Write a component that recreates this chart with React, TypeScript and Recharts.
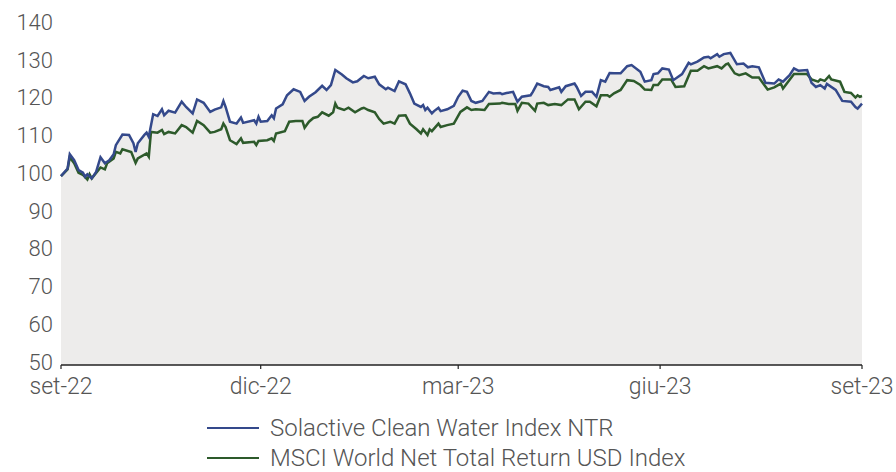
import React from 'react';
import { ComposedChart, Line, Area, XAxis, YAxis } from 'recharts';

const tickDays = [0, 91, 181, 273, 365];
const tickLabels = ['set-22', 'dic-22', 'mar-23', 'giu-23', 'set-23'];
const yTicks = [50, 60, 70, 80, 90, 100, 110, 120, 130, 140];

const seriesNames = ['Solactive Clean Water Index NTR', 'MSCI World Net Total Return USD Index'];

const waterDays = [0, 3, 4, 6, 8, 10, 11, 12, 14, 16, 18, 20, 22, 24, 25, 28, 31, 33, 34, 35, 38, 39, 40, 42, 44, 46, 47, 49, 52, 55, 57, 60, 62, 65, 68, 70, 73, 74, 75, 77, 80, 82, 83, 88, 89, 90, 91, 94, 96, 97, 98, 101, 103, 106, 109, 111, 113, 116, 119, 121, 123, 125, 128, 130, 133, 135, 138, 140, 143, 145, 148, 149, 152, 154, 157, 159, 161, 164, 165, 166, 167, 169, 170, 172, 173, 176, 179, 181, 183, 185, 187, 189, 192, 195, 197, 200, 201, 203, 206, 208, 210, 214, 215, 217, 220, 222, 223, 227, 228, 230, 234, 235, 237, 239, 242, 244, 246, 248, 250, 252, 255, 258, 260, 264, 266, 269, 270, 272, 274, 277, 279, 283, 286, 287, 290, 293, 295, 296, 299, 300, 302, 305, 308, 311, 313, 315, 318, 321, 325, 327, 329, 332, 334, 336, 340, 342, 344, 346, 348, 349, 353, 356, 360, 362, 363, 365];
const waterValues = [100, 102, 105.8, 104.2, 101.6, 100.9, 99.8, 100.5, 99.4, 101.1, 105, 103.4, 104.2, 105.8, 108.2, 111, 110.9, 108.7, 106.4, 108.7, 110.9, 111.5, 110.4, 116.4, 115.9, 117.7, 116.1, 117.3, 116.8, 119.7, 118.3, 116.6, 120.3, 119.4, 117, 117.6, 118.2, 119.9, 118.3, 114.4, 113.9, 115.5, 114.1, 114.8, 113.9, 115.7, 114.4, 114.6, 116.1, 115.3, 117.9, 119, 121.4, 123, 122.3, 119.9, 121, 122.2, 123.9, 122.8, 124.1, 128.1, 126.9, 125.9, 124.8, 125.1, 126.5, 125.9, 126.3, 124.3, 123, 123.4, 122.5, 125.1, 124.3, 121.9, 119.2, 118.3, 118.8, 117.5, 118.1, 116.6, 117.2, 118.1, 117.2, 117.7, 118.6, 121, 122.6, 122.3, 119.9, 119.4, 119.9, 122.3, 121.9, 122, 121.7, 122, 122.3, 119.7, 121, 121.4, 122.3, 124.5, 123.8, 123.6, 122.8, 123.5, 122.3, 123.8, 124.5, 123.6, 121.2, 122.3, 122.3, 121, 125.4, 125, 127.3, 127.2, 127.2, 129.1, 129.4, 127.6, 125, 125.4, 127, 127.2, 128.5, 128.2, 125.4, 127, 130, 129.6, 130.3, 131.4, 131.6, 131.2, 132.3, 131.6, 132.3, 132.6, 129.6, 129.8, 128.8, 129.1, 128.8, 124.7, 124.5, 125.6, 125, 126.7, 128.5, 127.9, 128.1, 124.7, 123.6, 124.1, 123.2, 124.4, 122.8, 119.9, 119.7, 118.3, 117.9, 119.2];

const msciDays = [0, 3, 4, 6, 8, 10, 12, 13, 14, 18, 20, 21, 24, 25, 27, 28, 32, 34, 35, 39, 40, 41, 44, 46, 47, 49, 52, 55, 57, 60, 62, 65, 68, 70, 73, 74, 75, 77, 80, 82, 83, 88, 89, 90, 94, 96, 97, 98, 102, 104, 107, 110, 111, 113, 115, 117, 119, 122, 124, 125, 126, 129, 131, 134, 137, 138, 140, 143, 145, 147, 150, 152, 154, 157, 159, 162, 164, 165, 167, 168, 169, 172, 173, 176, 179, 182, 185, 187, 189, 193, 195, 200, 201, 204, 207, 208, 210, 213, 216, 217, 220, 222, 225, 228, 231, 234, 236, 239, 241, 244, 246, 249, 250, 252, 255, 258, 261, 264, 266, 269, 270, 272, 274, 278, 280, 284, 287, 290, 293, 295, 299, 301, 303, 304, 307, 309, 312, 315, 318, 322, 325, 328, 329, 334, 340, 342, 345, 346, 348, 350, 351, 355, 357, 360, 362, 363, 364, 365];
const msciValues = [100, 101.8, 105, 103.4, 100.9, 100.3, 99.1, 100.5, 99.4, 102.3, 101.8, 103.4, 104.7, 106.4, 106, 107.1, 106.4, 103.5, 104.7, 106, 105.1, 111.7, 111.5, 112.2, 111.1, 111.7, 111.3, 113.5, 113, 111.5, 114.6, 113.5, 111.5, 111.7, 112.4, 113.9, 113, 109.5, 108.5, 110, 108.8, 109.1, 108.2, 109.3, 109.5, 110, 109.3, 111.3, 111.9, 114.4, 114.6, 114.6, 112.8, 114.4, 115.4, 115.7, 116.9, 116, 116.9, 119.2, 118.1, 117.5, 118.1, 116.9, 117.9, 118.1, 117.5, 116.9, 115.1, 113.9, 114.4, 113.9, 116, 116.1, 113.9, 112.4, 111.3, 112.4, 110.9, 112.4, 111.9, 113.9, 113, 113.5, 113.9, 117, 118.2, 117.5, 117.7, 117.5, 119.1, 119.2, 119.4, 119.1, 119.1, 117.3, 119.4, 119.2, 117.3, 119.2, 119.4, 118.8, 119.1, 118.8, 120.3, 120.3, 117.7, 119.7, 119.7, 118.5, 121.4, 121.4, 121, 121.9, 122.8, 125.4, 125.2, 124.1, 122.9, 122.8, 124.1, 124.1, 125.6, 125.6, 123.6, 123.8, 127.9, 127.9, 129.1, 128.5, 129.1, 128.5, 129.6, 129.8, 127.2, 126.7, 127.2, 126.1, 126.1, 122.9, 123.5, 124.5, 123.2, 127, 127, 125.6, 125, 125.6, 125.2, 126.5, 125.6, 125, 122.3, 122, 120.8, 121.4, 121, 121.2];

const COLORS = { water: '#34498b', msci: '#2d5a2b', fill: '#edeceb', text: '#555555' };
const FONT = 'Roboto, "Noto Sans", sans-serif';

type Row = { day: number; water?: number; msci?: number };

function buildRows(): Row[] {
  const map = new Map<number, Row>();
  waterDays.forEach((d, i) => {
    const r = map.get(d) || { day: d };
    r.water = waterValues[i];
    map.set(d, r);
  });
  msciDays.forEach((d, i) => {
    const r = map.get(d) || { day: d };
    r.msci = msciValues[i];
    map.set(d, r);
  });
  return Array.from(map.values()).sort((a, b) => a.day - b.day);
}

const rows = buildRows();

const YTick = (props: any) => {
  const { x, y, payload } = props;
  return (
    <text x={x} y={y - 3} dy="0.355em" textAnchor="end" fill={COLORS.text} fontSize={22} fontWeight={300} fontFamily={FONT}>
      {payload.value}
    </text>
  );
};

export default function App() {
  return (
    <div style={{ position: 'absolute', left: 0, top: 0, width: 896, height: 472, background: '#fff', fontFamily: FONT, overflow: 'hidden' }}>
      <ComposedChart width={896} height={472} data={rows} margin={{ top: 25, right: 34, bottom: 67, left: 0 }}>
        <XAxis
          dataKey="day"
          type="number"
          domain={[0, 365]}
          ticks={tickDays}
          tickFormatter={(v: number) => tickLabels[tickDays.indexOf(v)] ?? ''}
          height={40}
          tickSize={4}
          tickMargin={9}
          interval={0}
          axisLine={{ stroke: '#222', strokeWidth: 1.5 }}
          tickLine={{ stroke: '#222', strokeWidth: 1.2 }}
          tick={{ fill: COLORS.text, fontSize: 23, fontWeight: 300, fontFamily: FONT }}
        />
        <YAxis
          type="number"
          domain={[50, 140]}
          ticks={yTicks}
          interval={0}
          width={61}
          axisLine={false}
          tickLine={false}
          tick={<YTick />}
        />
        <Area dataKey="water" type="linear" stroke="none" fill={COLORS.fill} fillOpacity={1} connectNulls isAnimationActive={false} />
        <Area dataKey="msci" type="linear" stroke="none" fill={COLORS.fill} fillOpacity={1} connectNulls isAnimationActive={false} />
        <Line dataKey="msci" name={seriesNames[1]} type="linear" stroke={COLORS.msci} strokeWidth={2.5} dot={false} connectNulls isAnimationActive={false} />
        <Line dataKey="water" name={seriesNames[0]} type="linear" stroke={COLORS.water} strokeWidth={2.5} dot={false} connectNulls isAnimationActive={false} />
      </ComposedChart>
      <div style={{ position: 'absolute', left: 207, top: 413, fontFamily: FONT, fontWeight: 300, fontSize: 24, lineHeight: '20px', color: COLORS.text }}>
        {seriesNames.map((n, i) => (
          <div key={n} style={{ display: 'flex', alignItems: 'center', height: 30, whiteSpace: 'nowrap' }}>
            <span style={{ display: 'inline-block', width: 52, height: 2, background: i === 0 ? COLORS.water : COLORS.msci, marginRight: 11 }} />
            <span style={{ lineHeight: '20px' }}>{n}</span>
          </div>
        ))}
      </div>
    </div>
  );
}
